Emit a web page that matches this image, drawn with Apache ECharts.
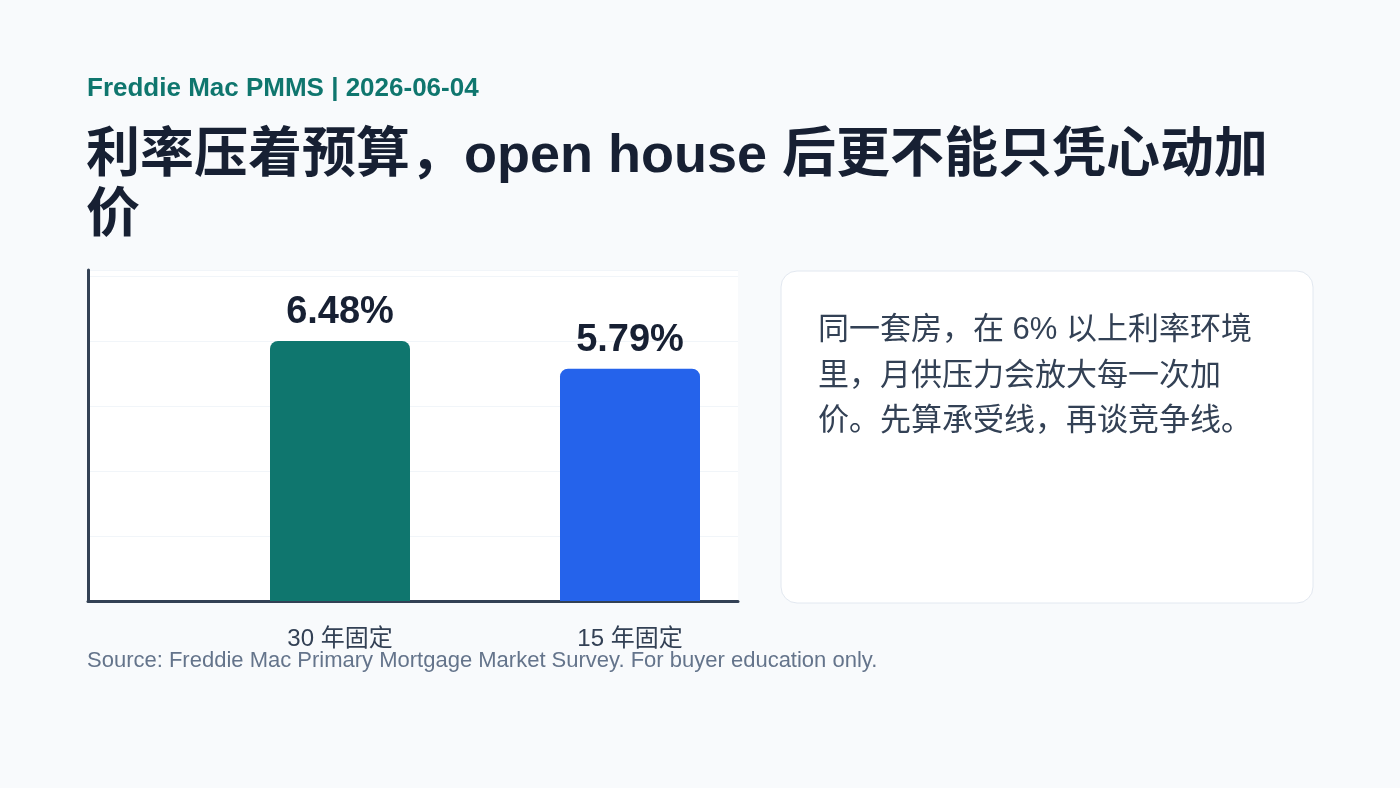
<!DOCTYPE html>
<html>
<head>
<meta charset="utf-8">
<script src="https://cdn.jsdelivr.net/npm/echarts@6/dist/echarts.min.js"></script>
<style>
  html, body { margin: 0; padding: 0; background: #f8fafc; }
  #chart { width: 1400px; height: 788px; }
</style>
</head>
<body>
<div id="chart"></div>
<script>
// ---- data ----
const kicker = 'Freddie Mac PMMS | 2026-06-04';
const headline = '利率压着预算，open house 后更不能只凭心动加\n价';
const categories = ['30 年固定', '15 年固定'];
const rates = [6.48, 5.79];
const noteLines = ['同一套房，在 6% 以上利率环境', '里，月供压力会放大每一次加', '价。先算承受线，再谈竞争线。'];
const sourceNote = 'Source: Freddie Mac Primary Mortgage Market Survey. For buyer education only.';
const yMin = 0;
const yMax = 8.25;
const yInterval = 1.62;

// ---- chart ----
const FONT = '"Liberation Sans", "Noto Sans CJK SC", sans-serif';
const barColors = ['#0f766e', '#2563eb'];
const chart = echarts.init(document.getElementById('chart'), null, { renderer: 'canvas' });

const option = {
  backgroundColor: '#f8fafc',
  animation: false,
  textStyle: { fontFamily: FONT },
  grid: [
    { left: 88, top: 270, width: 650, height: 331, show: true, backgroundColor: '#ffffff', borderWidth: 0 },
    { left: 195, top: 270, width: 580, height: 331, show: false }
  ],
  xAxis: [
    {
      gridIndex: 0, type: 'category', data: categories,
      axisLine: { show: true, lineStyle: { color: '#334155', width: 3 } },
      axisTick: { show: false }, axisLabel: { show: false }, splitLine: { show: false }
    },
    {
      gridIndex: 1, type: 'category', data: categories,
      axisLine: { show: false }, axisTick: { show: false }, splitLine: { show: false },
      axisLabel: { show: true, color: '#334155', fontSize: 24, margin: 26, fontFamily: FONT }
    }
  ],
  yAxis: [
    {
      gridIndex: 0, type: 'value', min: yMin, max: yMax, interval: yInterval,
      axisLine: { show: true, lineStyle: { color: '#334155', width: 3 } },
      axisTick: { show: false }, axisLabel: { show: false },
      splitLine: { show: true, lineStyle: { color: '#f1f5f9', width: 1 } }
    },
    {
      gridIndex: 1, type: 'value', min: yMin, max: yMax, interval: yInterval,
      axisLine: { show: false }, axisTick: { show: false }, axisLabel: { show: false },
      splitLine: { show: false }
    }
  ],
  series: [
    {
      type: 'bar', xAxisIndex: 1, yAxisIndex: 1,
      data: rates.map((v, i) => ({ value: v, itemStyle: { color: barColors[i] } })),
      barWidth: 140,
      itemStyle: { borderRadius: [8, 8, 0, 0] },
      label: {
        show: true, position: 'top', distance: 9,
        formatter: p => p.value.toFixed(2) + '%',
        fontSize: 38, fontWeight: 'bold', color: '#172033', fontFamily: FONT
      }
    }
  ],
  graphic: [
    {
      type: 'text', left: 87, top: 76,
      style: { text: kicker, font: 'bold 26px ' + FONT, fill: '#0f766e' }
    },
    {
      type: 'text', left: 86, top: 127,
      style: { text: headline, font: 'bold 54px ' + FONT, fill: '#172033', lineHeight: 60 }
    },
    {
      type: 'rect', z: 1,
      shape: { x: 781, y: 271, width: 532, height: 332, r: 16 },
      style: { fill: '#ffffff', stroke: '#e2e8f0', lineWidth: 1 }
    },
    {
      type: 'text', z: 2, x: 818, y: 308,
      style: { text: noteLines.join('\n'), font: '31px ' + FONT, fill: '#334155', lineHeight: 45.5 }
    },
    {
      type: 'text', left: 87, top: 650,
      style: { text: sourceNote, font: '22px ' + FONT, fill: '#64748b' }
    }
  ]
};
chart.setOption(option);
</script>
</body>
</html>
